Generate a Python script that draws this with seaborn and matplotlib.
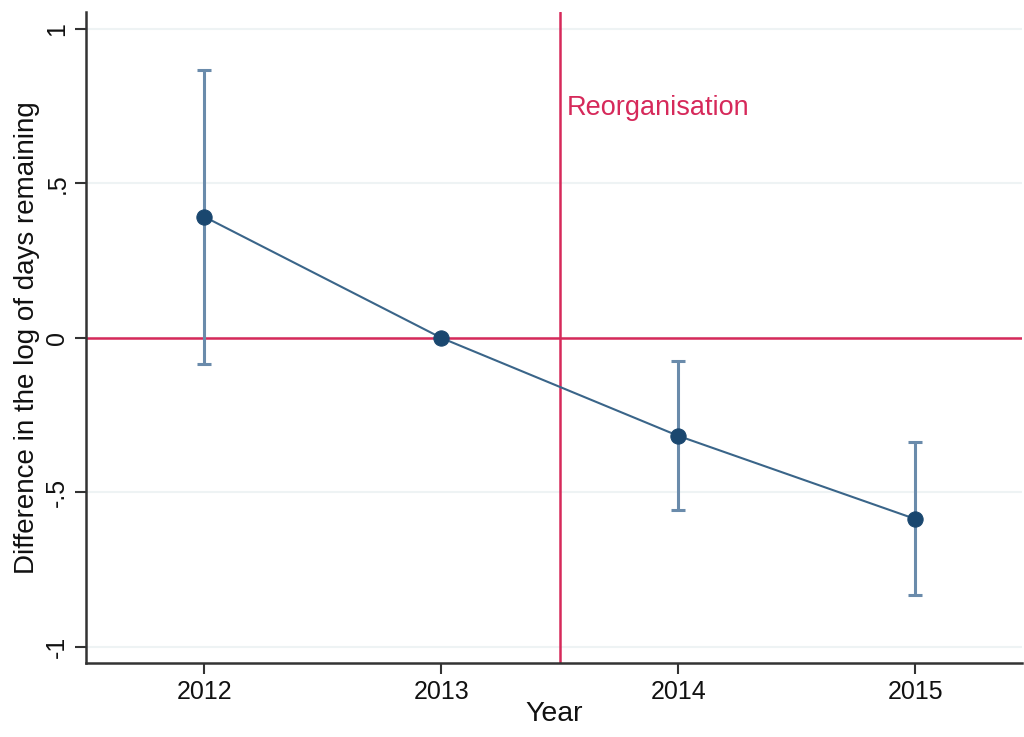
import matplotlib
matplotlib.use("Agg")
import matplotlib.pyplot as plt
import seaborn as sns
import numpy as np
import pandas as pd

# Event-study estimates relative to 2013
years = [2012, 2013, 2014, 2015]
coef = [0.392, 0.0, -0.317, -0.586]
ci_low = [-0.084, 0.0, -0.557, -0.832]
ci_high = [0.867, 0.0, -0.074, -0.337]

y_ticks = [-1, -0.5, 0, 0.5, 1]
y_tick_labels = ["-1", "-.5", "0", ".5", "1"]
reform_year = 2013.5
reform_label = "Reorganisation"

sns.set_theme(style="white")
plt.rcParams["font.family"] = ["Liberation Sans", "DejaVu Sans"]

navy = "#1a476f"
bar_col = "#6a8bab"
red = "#d6295a"
grid_col = "#eef3f4"

df = pd.DataFrame({"Year": years, "coef": coef, "lo": ci_low, "hi": ci_high})

fig = plt.figure(figsize=(10.24, 7.37), dpi=100)
ax = fig.add_axes([86 / 1024, 1 - 663 / 737, (1022 - 86) / 1024, (663 - 12) / 737])

for t in y_ticks:
    ax.axhline(t, color=grid_col, lw=1.5, zorder=0)

ax.axhline(0, color=red, lw=1.8, zorder=1)
ax.axvline(reform_year, color=red, lw=1.8, zorder=1)

ax.errorbar(df["Year"], df["coef"],
            yerr=[df["coef"] - df["lo"], df["hi"] - df["coef"]],
            fmt="none", ecolor=bar_col, elinewidth=2.2, capsize=5, capthick=2.2, zorder=2)
sns.lineplot(data=df, x="Year", y="coef", ax=ax, color="#3a6589", lw=1.5,
             marker="o", markersize=11, markerfacecolor=navy, markeredgecolor=navy,
             zorder=3)

ax.text(reform_year + 0.03, 0.744, reform_label, color=red, fontsize=19.5,
        va="center", ha="left")

ax.set_xlim(2011.5, 2015.45)
ax.set_ylim(-1.052, 1.055)
ax.set_xticks(years)
ax.set_xticklabels([str(y) for y in years], fontsize=18, color="#111111")
ax.set_yticks(y_ticks)
ax.set_yticklabels(y_tick_labels, fontsize=18, color="#111111", rotation=90, va="center")
ax.set_xlabel("Year", fontsize=20.5, color="#111111", labelpad=-2)
ax.set_ylabel("Difference in the log of days remaining", fontsize=20, color="#111111", labelpad=4)

for side in ["top", "right"]:
    ax.spines[side].set_visible(False)
for side in ["left", "bottom"]:
    ax.spines[side].set_color("#333333")
    ax.spines[side].set_linewidth(1.8)
ax.tick_params(axis="both", which="major", direction="out", length=8, width=1.5,
               color="#333333", left=True, bottom=True, pad=4)
ax.grid(False)

fig.savefig("out.png", dpi=100, facecolor="white")
